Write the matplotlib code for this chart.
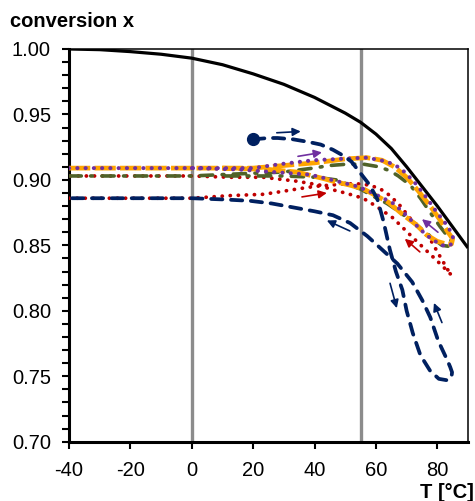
import matplotlib
matplotlib.use("Agg")
import matplotlib.pyplot as plt
from matplotlib.ticker import MultipleLocator, FixedLocator

plt.rcParams['font.family'] = ['Liberation Sans', 'DejaVu Sans']

# Equilibrium conversion
t_eq = [-40, -30, -20, -10, 0, 10, 20, 30, 40, 45, 50, 55, 60, 65, 70, 75, 80, 85, 90]
x_eq = [1.000, 0.9995, 0.998, 0.996, 0.993, 0.988, 0.981, 0.973, 0.963, 0.957,
        0.951, 0.944, 0.935, 0.924, 0.910, 0.895, 0.880, 0.864, 0.848]

# Trajectory 1 (navy, starts at the dot)
navy_T = [20, 25, 28, 33, 38, 42, 46, 49, 52, 55, 58, 60.5, 62.5, 64.5, 66.5, 68.6,
          70, 72, 74.5, 77.7, 80.5, 83, 84.6, 84.8, 84.2, 83.3, 80.3, 77.7, 75.1,
          71.8, 67, 61.4, 57.2, 51.6, 46, 40, 33, 26, 19, 11, 0, -40]
navy_x = [0.931, 0.932, 0.932, 0.931, 0.929, 0.927, 0.923, 0.919, 0.914, 0.905, 0.896,
          0.885, 0.868, 0.847, 0.830, 0.816, 0.800, 0.783, 0.766, 0.754, 0.748, 0.747,
          0.749, 0.753, 0.757, 0.762, 0.777, 0.795, 0.808, 0.822, 0.836, 0.848, 0.857,
          0.867, 0.873, 0.876, 0.879, 0.882, 0.884, 0.885, 0.886, 0.886]

# Trajectory 2 (orange)
orange_T = [-40, 0, 20, 30, 40, 50, 57, 62, 66, 70, 74, 78, 81, 83.5, 85, 84.6, 83,
            80, 76.5, 73, 69, 64, 60, 56, 51.5, 46, 42.9, 34.2, 25, 10]
orange_x = [0.909, 0.909, 0.909, 0.911, 0.913, 0.916, 0.917, 0.915, 0.910, 0.902,
            0.891, 0.879, 0.869, 0.860, 0.855, 0.851, 0.851, 0.853, 0.858, 0.866,
            0.873, 0.883, 0.888, 0.893, 0.896, 0.899, 0.901, 0.906, 0.908, 0.909]

# Trajectory 3 (purple)
purple_T = [-40, 0, 20, 28.7, 39.5, 48, 57, 63.6, 68, 71, 73.4, 76.6, 79.9, 82.6,
            84.8, 85.3, 84.2, 81.5, 78, 75, 72, 69, 65.7, 62.4, 58, 54, 47.3, 38.6,
            26.5, 15, 0]
purple_x = [0.909, 0.909, 0.909, 0.912, 0.915, 0.916, 0.917, 0.914, 0.909, 0.902,
            0.896, 0.886, 0.875, 0.867, 0.859, 0.854, 0.850, 0.850, 0.855, 0.861,
            0.868, 0.875, 0.882, 0.886, 0.891, 0.895, 0.899, 0.904, 0.906, 0.908, 0.909]

# Trajectory 4 (green)
green_T = [-40, 0, 19, 29.8, 39.6, 45, 50.5, 56, 61, 64.5, 67.3, 71.2, 74.5, 77.7,
           81, 84, 85.3, 84.5, 81.5, 77.7, 72.5, 68, 63.6, 60.3, 55, 47, 40.7, 30, 10]
green_x = [0.903, 0.903, 0.905, 0.906, 0.909, 0.911, 0.912, 0.912, 0.910, 0.907,
           0.903, 0.896, 0.886, 0.875, 0.864, 0.855, 0.851, 0.849, 0.850, 0.857,
           0.867, 0.875, 0.882, 0.886, 0.893, 0.900, 0.902, 0.903, 0.903]

# Trajectory 5 (red)
red_T = [-40, 0, 12.5, 23.3, 29, 34.2, 40, 45, 50, 54, 58, 61.5, 64.6, 68, 71, 74.5,
         77.6, 81, 83.5, 84.8, 84.3, 80, 76, 72, 65.5, 60, 55.8, 50, 45, 41.8, 34.2,
         23.3, 12.5, 0, -40]
red_x = [0.886, 0.886, 0.888, 0.889, 0.891, 0.893, 0.895, 0.896, 0.897, 0.897, 0.896,
         0.893, 0.888, 0.880, 0.871, 0.863, 0.855, 0.841, 0.831, 0.828, 0.828, 0.838,
         0.847, 0.856, 0.871, 0.880, 0.886, 0.890, 0.893, 0.896, 0.899, 0.902, 0.902,
         0.903, 0.903]

# Direction arrows: (T_from, x_from, T_to, x_to)
navy_arrows = [(27.7, 0.936, 35.5, 0.937), (51.5, 0.861, 44.0, 0.869),
               (64.6, 0.821, 66.8, 0.802), (81.5, 0.791, 78.9, 0.806)]
purple_arrows = [(34.6, 0.918, 42.4, 0.921), (80.2, 0.860, 75.0, 0.870)]
red_arrows = [(35.9, 0.887, 44.0, 0.890), (74.3, 0.845, 69.4, 0.855)]

# Reference temperatures
t_marks = [0, 55]

x_ticks = [-40, -20, 0, 20, 40, 60, 80]
y_ticks = [0.70, 0.75, 0.80, 0.85, 0.90, 0.95, 1.00]

NAVY = '#002060'
ORANGE = '#FFA500'
PURPLE = '#7030A0'
GREEN = '#4F6228'
RED = '#C00000'

fig = plt.figure(figsize=(4.75, 5.01), dpi=100)
ax = fig.add_axes([0.1453, 0.1184, 0.8400, 0.7838])

for t in t_marks:
    ax.axvline(t, color='#8C8C8C', lw=2.4, zorder=1)

ax.plot(t_eq, x_eq, color='black', lw=2.3, zorder=3, solid_capstyle='butt',
        solid_joinstyle='round')

ax.plot(red_T, red_x, color=RED, lw=2.7, linestyle=(0, (0.05, 2.1)),
        dash_capstyle='round', zorder=4)
ax.plot(green_T, green_x, color=GREEN, lw=2.6, linestyle=(0, (3.4, 2.6, 0.5, 2.6)),
        dash_capstyle='round', zorder=5)
ax.plot(orange_T, orange_x, color=ORANGE, lw=3.4, linestyle=(0, (4.5, 0.9)),
        zorder=6)
ax.plot(purple_T, purple_x, color=PURPLE, lw=2.9, linestyle=(0, (0.05, 2.0)),
        dash_capstyle='round', zorder=7)
ax.plot(navy_T, navy_x, color=NAVY, lw=2.7, linestyle=(0, (3.0, 2.3)),
        dash_capstyle='round', solid_joinstyle='round', zorder=8)
ax.plot(navy_T[:1], navy_x[:1], 'o', color=NAVY, ms=8.5, zorder=9)


def draw_arrows(arrows, color):
    for t0, x0, t1, x1 in arrows:
        ax.annotate('', xy=(t1, x1), xytext=(t0, x0),
                    arrowprops=dict(arrowstyle='-|>', color=color, lw=1.2,
                                    mutation_scale=12, shrinkA=0, shrinkB=0),
                    zorder=10)


draw_arrows(navy_arrows, NAVY)
draw_arrows(purple_arrows, PURPLE)
draw_arrows(red_arrows, RED)

ax.set_xlim(-40, 90)
ax.set_ylim(0.70, 1.00)
ax.xaxis.set_major_locator(FixedLocator(x_ticks))
ax.yaxis.set_major_locator(FixedLocator(y_ticks))
ax.yaxis.set_minor_locator(MultipleLocator(0.01))
ax.set_xticklabels([str(v) for v in x_ticks])
ax.set_yticklabels([f'{v:.2f}' for v in y_ticks])

ax.tick_params(axis='both', which='major', direction='out', length=5, width=1.5,
               labelsize=14.5, color='black')
ax.tick_params(axis='y', which='minor', direction='out', length=5, width=1.5)
ax.tick_params(axis='x', pad=9)
ax.tick_params(axis='y', pad=8)

for side in ('left', 'bottom'):
    ax.spines[side].set_linewidth(2.2)
for side in ('top', 'right'):
    ax.spines[side].set_linewidth(1.1)

fig.text(0.021, 0.9467, 'conversion x', fontsize=14.5, fontweight='bold',
         ha='left', va='baseline')
fig.text(0.997, 0.0068, 'T [°C]', fontsize=14.5, fontweight='bold',
         ha='right', va='baseline')

fig.savefig('out.png', dpi=100)
